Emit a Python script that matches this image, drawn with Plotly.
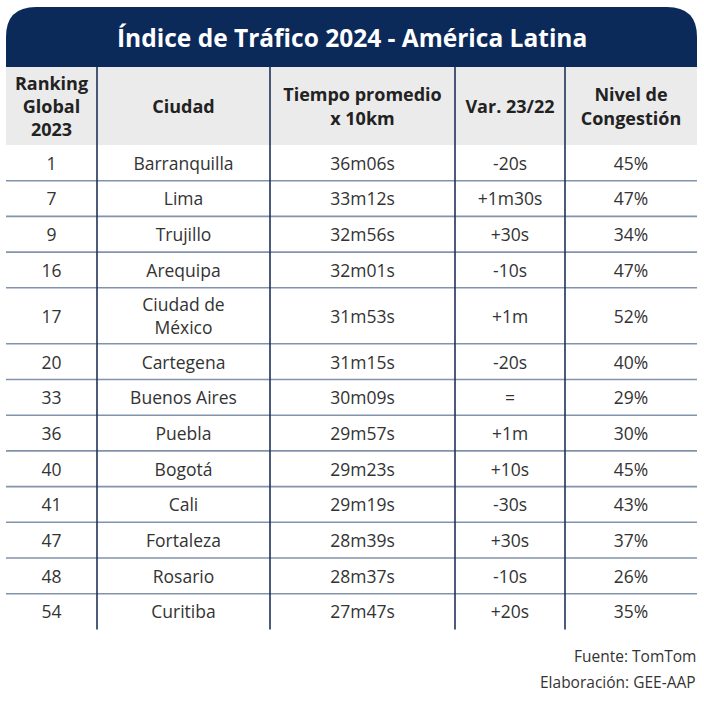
import plotly.graph_objects as go

# ---------------- data ----------------
titulo = "Índice de Tráfico 2024 - América Latina"
encabezados = ["Ranking<br>Global<br>2023", "Ciudad", "Tiempo promedio<br>x 10km",
               "Var. 23/22", "Nivel de<br>Congestión"]
ranking = [1, 7, 9, 16, 17, 20, 33, 36, 40, 41, 47, 48, 54]
ciudad = ["Barranquilla", "Lima", "Trujillo", "Arequipa", "Ciudad de<br>México",
          "Cartegena", "Buenos Aires", "Puebla", "Bogotá", "Cali", "Fortaleza",
          "Rosario", "Curitiba"]
tiempo = ["36m06s", "33m12s", "32m56s", "32m01s", "31m53s", "31m15s", "30m09s",
          "29m57s", "29m23s", "29m19s", "28m39s", "28m37s", "27m47s"]
variacion = ["-20s", "+1m30s", "+30s", "-10s", "+1m", "-20s", "=", "+1m",
             "+10s", "-30s", "+30s", "-10s", "+20s"]
congestion = [45, 47, 34, 47, 52, 40, 29, 30, 45, 43, 37, 26, 35]
notas = ["Fuente: TomTom", "Elaboración: GEE-AAP"]

# ---------------- layout constants ----------------
W, H = 704, 705
FONT = "Open Sans"
NAVY = "#0b2a5a"
HEADER_BG = "#ebebeb"
VLINE = "#1f3358"
HLINE = "#8393ab"
TXT = "#333333"

col_edges = [6, 97, 270, 455, 565, 697]
banner_top, banner_bot = 7, 67
header_bot = 145
ROW_H, EXTRA_LINE = 35.7, 20.3
TEXT_DY = 2.5

columns = [
    [str(r) for r in ranking],
    ciudad,
    tiempo,
    variacion,
    [f"{c}%" for c in congestion],
]

# row boundaries from the number of text lines in each row
row_edges = [header_bot]
for i in range(len(ranking)):
    nlines = max(col[i].count("<br>") + 1 for col in columns)
    row_edges.append(row_edges[-1] + ROW_H + EXTRA_LINE * (nlines - 1))
row_centers = [(a + b) / 2 + TEXT_DY for a, b in zip(row_edges[:-1], row_edges[1:])]
col_centers = [(a + b) / 2 for a, b in zip(col_edges[:-1], col_edges[1:])]

fig = go.Figure()

shapes = []
# banner with rounded top corners
r = 30
x0, x1 = col_edges[0], col_edges[-1]
shapes.append(dict(
    type="path", xref="x", yref="y", line=dict(width=0), fillcolor=NAVY, layer="below",
    path=(f"M {x0},{banner_bot} L {x0},{banner_top + r} "
          f"Q {x0},{banner_top} {x0 + r},{banner_top} "
          f"L {x1 - r},{banner_top} Q {x1},{banner_top} {x1},{banner_top + r} "
          f"L {x1},{banner_bot} Z")))
# header background
shapes.append(dict(type="rect", xref="x", yref="y", x0=x0, x1=x1, y0=banner_bot, y1=header_bot,
                   fillcolor=HEADER_BG, line=dict(width=0), layer="below"))
# horizontal row lines (not after the last row)
for y in row_edges[1:-1]:
    shapes.append(dict(type="line", xref="x", yref="y", x0=x0, x1=x1, y0=y, y1=y,
                       line=dict(color=HLINE, width=1.6)))
# vertical column lines
for x in col_edges[1:-1]:
    shapes.append(dict(type="line", xref="x", yref="y", x0=x, x1=x, y0=banner_bot, y1=row_edges[-1],
                       line=dict(color=VLINE, width=1.6)))

# header text
fig.add_trace(go.Scatter(
    x=col_centers, y=[(banner_bot + header_bot) / 2 + TEXT_DY] * len(col_centers),
    text=encabezados, mode="text", textposition="middle center",
    textfont=dict(family=FONT, size=18, color="#222222", weight="bold"),
    hoverinfo="skip", showlegend=False))

# body text, one trace per column
for cx, col in zip(col_centers, columns):
    fig.add_trace(go.Scatter(
        x=[cx] * len(col), y=row_centers, text=col, mode="text",
        textposition="middle center",
        textfont=dict(family=FONT, size=17.5, color=TXT),
        hoverinfo="skip", showlegend=False))

annotations = [
    dict(x=(x0 + x1) / 2, y=(banner_top + banner_bot) / 2, xref="x", yref="y",
         text=f"<b>{titulo}</b>", showarrow=False,
         font=dict(family=FONT, size=24.5, color="white"), xanchor="center", yanchor="middle"),
]
for k, nota in enumerate(notas):
    annotations.append(dict(
        x=x1 + 1, y=row_edges[-1] + 27 + 26 * k, xref="x", yref="y", text=nota,
        showarrow=False, xanchor="right", yanchor="middle",
        font=dict(family=FONT, size=15.5, color=TXT)))

fig.update_layout(
    width=W, height=H, autosize=False,
    margin=dict(l=0, r=0, t=0, b=0),
    paper_bgcolor="white", plot_bgcolor="white",
    xaxis=dict(range=[0, W], visible=False, fixedrange=True),
    yaxis=dict(range=[H, 0], visible=False, fixedrange=True),
    shapes=shapes, annotations=annotations,
)

fig.write_html("out.html", config={"displayModeBar": False},
               post_script="document.body.style.margin='0';document.body.style.overflow='hidden';")
